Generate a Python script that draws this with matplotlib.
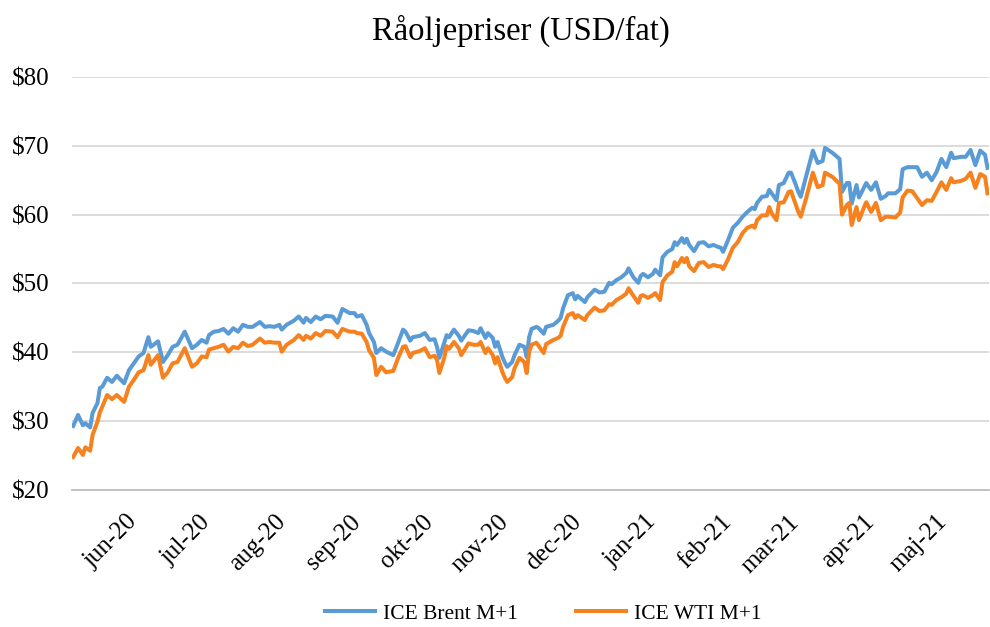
import matplotlib
matplotlib.use("Agg")
import matplotlib.pyplot as plt
import matplotlib.dates as mdates
import matplotlib.ticker as mticker
import matplotlib.transforms as mtransforms
import pandas as pd

# Daily prices, days counted from the first observation
start_date = "2020-05-06"
days = [
    0, 2, 4, 5, 7, 8, 10, 11, 12, 14, 16, 18, 21, 23, 25, 27, 29, 31, 32, 35,
    37, 39, 41, 43, 46, 49, 51, 53, 55, 56, 58, 60, 62, 64, 66, 68, 70, 72, 74, 77,
    79, 81, 83, 85, 86, 88, 91, 93, 95, 96, 98, 100, 102, 104, 107, 109, 111, 114, 116, 117,
    119, 121, 122, 124, 125, 127, 129, 132, 134, 136, 137, 139, 140, 143, 145, 147, 149, 150, 151, 153,
    154, 155, 157, 159, 160, 163, 165, 167, 168, 170, 171, 173, 174, 175, 177, 178, 179, 181, 182, 184,
    186, 187, 188, 189, 191, 192, 194, 195, 198, 200, 201, 202, 204, 206, 207, 208, 211, 212, 215, 217,
    219, 221, 222, 224, 226, 228, 229, 231, 233, 234, 235, 237, 239, 240, 242, 243, 245, 247, 248, 249,
    251, 252, 253, 254, 256, 258, 260, 262, 264, 266, 267, 268, 270, 272, 274, 276, 278, 280, 281, 282,
    284, 286, 287, 288, 290, 291, 293, 295, 296, 298, 299, 300, 302, 305, 307, 309, 310, 313, 316, 317,
    319, 320, 321, 323, 324, 326, 327, 329, 331, 333, 335, 336, 339, 341, 342, 344, 346, 348, 350, 352,
    354, 356, 358, 360, 362, 363, 366, 368, 370, 372, 374, 376, 377,
]
brent = [
    29.3, 30.9, 29.4, 29.7, 29.1, 31.2, 32.6, 34.8, 35.0, 36.3, 35.7, 36.6, 35.5, 37.4, 38.4, 39.4, 39.9, 42.2, 40.8, 41.6,
    38.6, 39.6, 40.8, 41.1, 43.0, 40.6, 41.1, 41.8, 41.4, 42.5, 43.0, 43.1, 43.4, 42.7, 43.5, 43.0, 44.0, 43.7, 43.7, 44.4,
    43.7, 43.8, 43.7, 44.0, 43.3, 44.0, 44.6, 45.2, 44.3, 45.0, 44.4, 45.2, 44.8, 45.3, 45.2, 44.3, 46.3, 45.7, 45.7, 45.2,
    45.4, 44.0, 42.8, 41.5, 39.9, 40.6, 40.1, 39.6, 41.4, 43.3, 43.0, 41.7, 42.2, 42.4, 42.8, 41.8, 41.9, 40.8, 39.2, 41.4,
    42.5, 42.2, 43.3, 42.4, 41.7, 43.2, 43.1, 42.8, 43.5, 42.1, 42.8, 42.1, 40.8, 41.5, 39.3, 38.5, 37.9, 38.6, 39.6, 41.1,
    40.8, 39.3, 42.2, 43.4, 43.7, 43.5, 42.7, 43.7, 44.0, 44.6, 45.0, 46.4, 48.3, 48.6, 47.7, 48.2, 47.3, 48.0, 49.1, 48.7,
    48.8, 50.1, 49.9, 50.5, 50.9, 51.5, 52.2, 50.9, 50.1, 51.1, 51.4, 50.9, 51.4, 52.0, 51.2, 53.8, 54.6, 55.0, 56.0, 55.6,
    56.6, 55.9, 56.5, 55.6, 54.7, 55.9, 56.0, 55.4, 55.6, 55.3, 55.2, 54.6, 56.3, 58.1, 58.8, 59.7, 60.4, 61.0, 60.8, 61.7,
    62.6, 62.7, 63.6, 63.1, 62.1, 64.3, 64.6, 66.1, 66.1, 64.3, 63.3, 62.6, 65.3, 69.3, 67.5, 67.8, 69.7, 69.0, 68.1, 63.3,
    64.6, 64.6, 61.6, 64.3, 62.5, 63.9, 64.6, 63.6, 64.7, 62.3, 62.7, 63.1, 63.1, 63.7, 66.6, 66.9, 66.9, 66.9, 65.5, 66.1,
    65.0, 66.2, 68.1, 66.9, 69.0, 68.2, 68.4, 68.4, 69.4, 67.2, 69.3, 68.7, 66.8,
]
wti = [
    24.8, 26.1, 25.1, 26.2, 25.7, 28.0, 29.9, 31.3, 32.1, 33.8, 33.2, 33.8, 32.8, 35.0, 36.0, 37.1, 37.4, 39.6, 38.2, 39.6,
    36.3, 37.1, 38.4, 38.6, 40.6, 37.9, 38.4, 39.4, 39.3, 40.4, 40.6, 40.8, 41.1, 40.1, 40.8, 40.6, 41.4, 40.9, 41.1, 42.0,
    41.4, 41.5, 41.4, 41.4, 40.1, 41.1, 41.8, 42.5, 41.8, 42.4, 42.0, 42.8, 42.4, 43.1, 43.0, 42.2, 43.4, 43.0, 43.0, 42.8,
    42.7, 41.5, 40.3, 39.2, 36.7, 37.9, 37.1, 37.3, 39.2, 40.8, 40.9, 39.3, 39.9, 40.2, 40.6, 39.3, 39.5, 38.9, 37.0, 39.2,
    40.9, 40.5, 41.5, 40.6, 39.6, 41.3, 41.1, 41.1, 41.5, 39.9, 40.6, 39.6, 38.4, 39.3, 37.1, 36.3, 35.7, 36.4, 37.7, 39.2,
    38.6, 37.0, 40.1, 41.1, 41.4, 40.9, 39.9, 41.2, 41.8, 42.1, 42.4, 43.7, 45.4, 45.7, 45.0, 45.4, 44.7, 45.4, 46.5, 46.0,
    46.1, 47.0, 46.9, 47.6, 48.0, 48.5, 49.3, 48.2, 47.2, 48.2, 48.3, 47.9, 48.3, 48.6, 47.6, 50.2, 51.2, 51.7, 53.1, 52.5,
    53.7, 53.1, 53.7, 52.5, 51.8, 53.0, 53.1, 52.4, 52.7, 52.5, 52.5, 52.1, 53.5, 55.2, 56.0, 57.3, 58.1, 58.4, 58.1, 59.2,
    59.9, 59.9, 61.1, 60.2, 59.2, 61.7, 61.8, 63.3, 63.4, 61.4, 60.4, 59.7, 62.1, 66.1, 64.0, 64.3, 66.1, 65.5, 64.5, 60.0,
    61.4, 61.7, 58.5, 61.1, 59.2, 61.0, 61.8, 60.4, 61.7, 59.2, 59.7, 59.7, 59.6, 60.3, 62.5, 63.5, 63.4, 62.4, 61.4, 62.1,
    62.0, 63.3, 64.7, 63.6, 65.3, 64.7, 64.9, 65.2, 66.1, 63.9, 65.9, 65.5, 63.1,
]

month_names = ["jan", "feb", "mar", "apr", "maj", "jun",
               "jul", "aug", "sep", "okt", "nov", "dec"]

dates = pd.Timestamp(start_date) + pd.to_timedelta(days, unit="D")

plt.rcParams["font.family"] = ["Liberation Serif", "DejaVu Serif"]

fig = plt.figure(figsize=(9.9, 6.27), dpi=100)
ax = fig.add_axes([0.0727, 0.2185, 0.926, 0.6587])

ax.plot(dates, brent, color="#5B9BD5", lw=2.9, label="ICE Brent M+1", solid_joinstyle="round")
ax.plot(dates, wti, color="#F5821F", lw=2.9, label="ICE WTI M+1", solid_joinstyle="round")

t0 = pd.Timestamp(start_date)
ax.set_xlim(t0 - pd.Timedelta(days=0.5), t0 + pd.Timedelta(days=377.5))
ax.set_ylim(20, 80)
ax.yaxis.set_major_locator(mticker.MultipleLocator(10))
ax.yaxis.set_major_formatter(mticker.FuncFormatter(lambda v, _: f"${v:.0f}"))


def month_label(v, _):
    d = mdates.num2date(v)
    return f"{month_names[d.month - 1]}-{d.year % 100:02d}"


ax.xaxis.set_major_locator(mdates.MonthLocator())
ax.xaxis.set_major_formatter(mticker.FuncFormatter(month_label))
ax.tick_params(axis="x", length=0, pad=15, labelsize=18)
ax.tick_params(axis="y", length=0, pad=16, labelsize=18)

# nudge the rotated month labels a little to the left, as in the original
shift = mtransforms.ScaledTranslation(-10 / 100, 0, fig.dpi_scale_trans)
for lbl in ax.get_xticklabels():
    lbl.set_rotation(45)
    lbl.set_ha("right")
    lbl.set_va("top")
    lbl.set_rotation_mode("anchor")
    lbl.set_transform(lbl.get_transform() + shift)

ax.grid(axis="y", color="#D9D9D9", lw=1.3)
ax.set_axisbelow(True)
for side in ["top", "right", "left"]:
    ax.spines[side].set_visible(False)
ax.spines["bottom"].set_color("#BFBFBF")
ax.spines["bottom"].set_linewidth(1.3)

fig.text(0.526, 0.95, "Råoljepriser (USD/fat)", ha="center", va="center", fontsize=23.5)
fig.legend(loc="lower center", bbox_to_anchor=(0.549, -0.026), ncol=2, frameon=False,
           fontsize=15.5, handlelength=2.3, columnspacing=2.7, handletextpad=0.4)

fig.savefig("out.png", dpi=100)
